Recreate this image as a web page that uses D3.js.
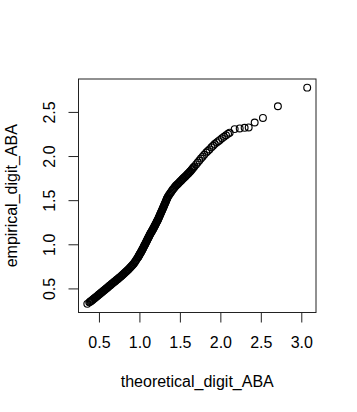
<!DOCTYPE html>
<html>
<head>
<meta charset="utf-8">
<script src="https://cdn.jsdelivr.net/npm/d3@7"></script>
<style>
  html, body { margin: 0; padding: 0; background: #fff; }
  svg { display: block; }
  text { font-family: "Liberation Sans", Arial, Helvetica, sans-serif; fill: #000; }
</style>
</head>
<body>
<svg id="chart" width="357" height="412"></svg>
<script>
// Theoretical quantiles (x) and empirical quantiles (y)
const theoretical = [
  0.356, 0.38, 0.39, 0.40, 0.41, 0.42, 0.43, 0.44, 0.45, 0.46, 0.47, 0.48,
  0.49, 0.50, 0.51, 0.52, 0.53, 0.54, 0.55, 0.56, 0.57, 0.58, 0.59, 0.60,
  0.61, 0.62, 0.63, 0.64, 0.65, 0.66, 0.67, 0.68, 0.69, 0.70, 0.71, 0.72,
  0.73, 0.74, 0.75, 0.76, 0.77, 0.78, 0.79, 0.80, 0.81, 0.82, 0.83, 0.84,
  0.85, 0.86, 0.87, 0.88, 0.89, 0.90, 0.91, 0.92, 0.93, 0.94, 0.95, 0.96,
  0.97, 0.98,
  0.985, 0.990, 0.995, 1.000, 1.005, 1.010, 1.015, 1.020, 1.025, 1.030,
  1.035, 1.040, 1.045, 1.050, 1.055, 1.060, 1.065, 1.070, 1.075, 1.080,
  1.085, 1.090, 1.095, 1.100, 1.105, 1.110, 1.115, 1.120, 1.125,
  1.130, 1.135, 1.140, 1.145, 1.150, 1.155, 1.160, 1.165, 1.170, 1.175,
  1.180, 1.185, 1.190, 1.195, 1.200, 1.205, 1.210, 1.215, 1.220, 1.225,
  1.230, 1.235, 1.240, 1.245, 1.250, 1.255, 1.260, 1.265, 1.270, 1.275,
  1.280, 1.285, 1.290, 1.295, 1.300, 1.305, 1.310,
  1.315, 1.320, 1.325, 1.330, 1.335, 1.340, 1.345, 1.350,
  1.36, 1.37, 1.38, 1.39, 1.40, 1.41, 1.42, 1.43, 1.44,
  1.45, 1.46, 1.47, 1.48, 1.49, 1.50, 1.51, 1.52, 1.53, 1.54, 1.55, 1.56,
  1.57, 1.58, 1.59, 1.60, 1.61, 1.62, 1.63, 1.64, 1.65, 1.66, 1.67, 1.68,
  1.70, 1.72, 1.74, 1.76, 1.78, 1.80, 1.825, 1.845, 1.865, 1.89, 1.91, 1.93,
  1.955, 1.975, 1.995, 2.02, 2.045, 2.07, 2.095, 2.115,
  2.177, 2.239, 2.300, 2.350, 2.424, 2.526, 2.711, 3.073
];
const empirical = [
  0.325, 0.342, 0.349, 0.355, 0.362, 0.370, 0.377, 0.385, 0.392, 0.400, 0.407, 0.415,
  0.423, 0.430, 0.438, 0.445, 0.453, 0.460, 0.468, 0.476, 0.483, 0.491, 0.499, 0.506,
  0.514, 0.522, 0.529, 0.537, 0.545, 0.552, 0.560, 0.567, 0.575, 0.582, 0.590, 0.598,
  0.605, 0.613, 0.621, 0.628, 0.636, 0.644, 0.652, 0.660, 0.669, 0.677, 0.685, 0.694,
  0.702, 0.711, 0.721, 0.731, 0.741, 0.750, 0.760, 0.770, 0.780, 0.793, 0.807, 0.821,
  0.835, 0.849,
  0.856, 0.864, 0.873, 0.881, 0.889, 0.897, 0.905, 0.913, 0.921, 0.929,
  0.938, 0.947, 0.956, 0.965, 0.974, 0.983, 0.992, 1.001, 1.010, 1.019,
  1.028, 1.037, 1.047, 1.056, 1.065, 1.074, 1.083, 1.092, 1.102,
  1.111, 1.119, 1.127, 1.135, 1.143, 1.151, 1.159, 1.167, 1.175, 1.183,
  1.192, 1.201, 1.210, 1.219, 1.228, 1.237, 1.246, 1.255, 1.264, 1.273,
  1.282, 1.292, 1.303, 1.313, 1.324, 1.334, 1.345, 1.355, 1.365, 1.376,
  1.386, 1.397, 1.408, 1.418, 1.429, 1.440, 1.450,
  1.461, 1.472, 1.483, 1.493, 1.504, 1.515, 1.525, 1.536,
  1.550, 1.564, 1.578, 1.591, 1.605, 1.617, 1.628, 1.640, 1.652,
  1.663, 1.672, 1.681, 1.690, 1.699, 1.708, 1.717, 1.726, 1.736, 1.745, 1.754, 1.763,
  1.772, 1.781, 1.791, 1.800, 1.809, 1.818, 1.829, 1.840, 1.850, 1.861, 1.872, 1.883,
  1.905, 1.927, 1.949, 1.972, 1.993, 2.015, 2.039, 2.057, 2.075, 2.099, 2.117, 2.136,
  2.154, 2.169, 2.183, 2.201, 2.219, 2.236, 2.252, 2.265,
  2.305, 2.313, 2.320, 2.324, 2.380, 2.432, 2.564, 2.775
];
const xTicks = [0.5, 1.0, 1.5, 2.0, 2.5, 3.0];
const yTicks = [0.5, 1.0, 1.5, 2.0, 2.5];
const xLabel = "theoretical_digit_ABA";
const yLabel = "empirical_digit_ABA";

const points = theoretical.map((x, i) => ({ x, y: empirical[i] }));

const box = { left: 78.5, right: 316, top: 79, bottom: 312.5 };
const fontSize = 16;

// R-style 4% range extension
function rExtend(ext) {
  const pad = (ext[1] - ext[0]) * 0.04;
  return [ext[0] - pad, ext[1] + pad];
}
const x = d3.scaleLinear().domain(rExtend(d3.extent(theoretical))).range([box.left, box.right]);
const y = d3.scaleLinear().domain(rExtend(d3.extent(empirical))).range([box.bottom, box.top]);

const svg = d3.select("#chart");

// points
svg.append("g")
  .selectAll("circle")
  .data(points)
  .join("circle")
  .attr("cx", d => x(d.x))
  .attr("cy", d => y(d.y))
  .attr("r", 3.4)
  .attr("fill", "none")
  .attr("stroke", "#000")
  .attr("stroke-width", 1.15);

// box
svg.append("rect")
  .attr("x", box.left).attr("y", box.top)
  .attr("width", box.right - box.left).attr("height", box.bottom - box.top)
  .attr("fill", "none").attr("stroke", "#222").attr("stroke-width", 1);

// x axis
const xAxis = d3.axisBottom(x).tickValues(xTicks).tickFormat(d3.format(".1f"))
  .tickSizeInner(10).tickSizeOuter(0).tickPadding(14.5);
const gx = svg.append("g").attr("transform", `translate(0,${box.bottom})`).call(xAxis);
gx.select(".domain").attr("d", `M${x(xTicks[0])},0H${x(xTicks[xTicks.length - 1])}`).attr("stroke", "#222");
gx.selectAll(".tick line").attr("stroke", "#222");
gx.selectAll(".tick text").attr("font-size", fontSize).attr("font-family", null).attr("fill", "#000");

// y axis
const yAxis = d3.axisLeft(y).tickValues(yTicks).tickFormat(d3.format(".1f"))
  .tickSizeInner(10).tickSizeOuter(0);
const gy = svg.append("g").attr("transform", `translate(${box.left},0)`).call(yAxis);
gy.select(".domain").attr("d", `M0,${y(yTicks[0])}V${y(yTicks[yTicks.length - 1])}`).attr("stroke", "#222");
gy.selectAll(".tick line").attr("stroke", "#222");
gy.selectAll(".tick text")
  .attr("font-size", fontSize).attr("font-family", null).attr("fill", "#000")
  .attr("x", null).attr("dy", null)
  .attr("text-anchor", "middle")
  .attr("transform", "translate(-23.5,0) rotate(-90)");

// axis titles
svg.append("text")
  .attr("x", (box.left + box.right) / 2).attr("y", 386.5)
  .attr("text-anchor", "middle").attr("font-size", fontSize)
  .text(xLabel);
svg.append("text")
  .attr("transform", `translate(17,${(box.top + box.bottom) / 2}) rotate(-90)`)
  .attr("text-anchor", "middle").attr("font-size", fontSize)
  .text(yLabel);
</script>
</body>
</html>
